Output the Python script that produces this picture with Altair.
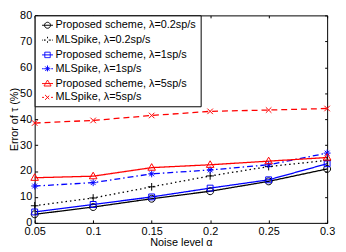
import altair as alt
import pandas as pd

# ---- data ----
alpha = [0.05, 0.1, 0.15, 0.2, 0.25, 0.3]
proposed_02 = [3.3, 6.1, 9.3, 12.2, 16.0, 20.8]
mlspike_02 = [6.6, 9.6, 13.9, 18.1, 21.7, 24.1]
proposed_1 = [4.2, 7.1, 10.0, 13.4, 16.6, 22.8]
mlspike_1 = [14.2, 15.5, 18.9, 20.4, 22.4, 26.9]
proposed_5 = [17.4, 18.0, 21.3, 22.4, 23.8, 25.2]
mlspike_5 = [38.5, 39.5, 41.4, 43.0, 43.5, 44.1]

series_names = [
    "Proposed scheme, λ=0.2sp/s",
    "MLSpike, λ=0.2sp/s",
    "Proposed scheme, λ=1sp/s",
    "MLSpike, λ=1sp/s",
    "Proposed scheme, λ=5sp/s",
    "MLSpike, λ=5sp/s",
]
series_values = [proposed_02, mlspike_02, proposed_1, mlspike_1, proposed_5, mlspike_5]
y_ticks = [0, 10, 20, 30, 40, 50, 60, 70, 80]

# ---- styles ----
colors = ["#000000", "#000000", "#0000ff", "#0000ff", "#ff0000", "#ff0000"]
dashes = [[1, 0], [1.5, 3], [1, 0], [6, 3, 1.5, 3], [1, 0], [6, 4]]
marker_paths = [
    "M-1,0A1,1 0 1,0 1,0A1,1 0 1,0 -1,0",
    "M-1.1,0H1.1M0,-1.1V1.1",
    "M-0.85,-0.85H0.85V0.85H-0.85Z",
    "M-1,0H1M0,-1V1M-0.7,-0.7L0.7,0.7M-0.7,0.7L0.7,-0.7",
    "M0,-1.15L1.1,0.75H-1.1Z",
    "M-0.8,-0.8L0.8,0.8M-0.8,0.8L0.8,-0.8",
]
solid = "M-1,0H1"
dotted = "M-1,0H-0.85M-0.65,0H-0.5M0.5,0H0.65M0.85,0H1"
dashdot = "M-1,0H-0.7M-0.5,0H-0.45M0.45,0H0.5M0.7,0H1"
dashed = "M-1,0H-0.65M0.65,0H1"
legend_paths = [
    solid + "M-0.55,0A0.55,0.55 0 1,0 0.55,0A0.55,0.55 0 1,0 -0.55,0",
    dotted + "M-0.6,0H0.6M0,-0.6V0.6",
    solid + "M-0.5,-0.5H0.5V0.5H-0.5Z",
    dashdot + "M-0.6,0H0.6M0,-0.6V0.6M-0.42,-0.42L0.42,0.42M-0.42,0.42L0.42,-0.42",
    solid + "M0,-0.65L0.65,0.45H-0.65Z",
    dashed + "M-0.45,-0.45L0.45,0.45M-0.45,0.45L0.45,-0.45",
]

rows = []
for name, vals in zip(series_names, series_values):
    for a, v in zip(alpha, vals):
        rows.append({"alpha": a, "value": v, "series": name})
df = pd.DataFrame(rows)

FONT = "Liberation Sans"
x_scale = alt.Scale(domain=[0.05, 0.3], nice=False, zero=False)
y_scale = alt.Scale(domain=[0, 80], nice=False)
color_scale = alt.Scale(domain=series_names, range=colors)

bottom_axis = alt.Axis(orient="bottom", values=alpha, format=".2~f", offset=-3, tickSize=3,
                       domain=False, grid=False, labelPadding=3, labelFlush=False,
                       title="Noise level α", titlePadding=0)
left_axis = alt.Axis(orient="left", values=y_ticks, offset=-3, tickSize=3, domain=False,
                     grid=False, labelPadding=3, labelFlush=False,
                     title="Error of τ (%)", titlePadding=0)
top_axis = alt.Axis(orient="top", values=alpha, offset=-2.5, tickSize=2.5, domain=False,
                    grid=False, labels=False, title=None)
right_axis = alt.Axis(orient="right", values=y_ticks, offset=-2.5, tickSize=2.5, domain=False,
                      grid=False, labels=False, title=None)

lines = alt.Chart(df).mark_line(strokeWidth=1.3).encode(
    x=alt.X("alpha:Q", scale=x_scale, axis=bottom_axis),
    y=alt.Y("value:Q", scale=y_scale, axis=left_axis),
    color=alt.Color("series:N", scale=color_scale),
    strokeDash=alt.StrokeDash("series:N", scale=alt.Scale(domain=series_names, range=dashes),
                              legend=None),
)

point_layers = []
for name, path in zip(series_names, marker_paths):
    point_layers.append(
        alt.Chart(df)
        .transform_filter(alt.datum.series == name)
        .mark_point(filled=False, size=49, strokeWidth=1, shape=path, opacity=1)
        .encode(
            x=alt.X("alpha:Q", scale=x_scale, axis=None),
            y=alt.Y("value:Q", scale=y_scale, axis=None),
            color=alt.Color("series:N", scale=color_scale),
        )
    )

legend_def = alt.Legend(
    orient="none", legendX=0, legendY=0, title=None,
    strokeColor="black", fillColor="white", padding=4,
    labelFont=FONT, labelFontSize=11, labelColor="black", labelOffset=2, labelLimit=300,
    symbolSize=121, symbolStrokeWidth=1, symbolOffset=3, rowPadding=3,
)

legend_layer = alt.Chart(df).mark_point(filled=False, opacity=0, size=121).encode(
    x=alt.X("alpha:Q", scale=x_scale, axis=top_axis),
    y=alt.Y("value:Q", scale=y_scale, axis=right_axis),
    color=alt.Color("series:N", scale=color_scale, legend=legend_def),
    shape=alt.Shape("series:N", scale=alt.Scale(domain=series_names, range=legend_paths),
                    legend=legend_def),
)

chart = (
    alt.layer(lines, *point_layers, legend_layer)
    .resolve_axis(x="independent", y="independent")
    .properties(
        width=296, height=210,
        padding={"left": 27, "top": 6, "right": 11, "bottom": 27},
        autosize=alt.AutoSizeParams(type="none"),
        background="white",
    )
    .configure_view(stroke="black", strokeWidth=1)
    .configure_axis(
        labelFont=FONT, labelFontSize=11, labelColor="black",
        titleFont=FONT, titleFontSize=11, titleFontWeight="normal", titleColor="black",
        tickColor="black", tickWidth=1,
    )
)

chart.save("out.html", embed_options={"renderer": "svg", "actions": False})
